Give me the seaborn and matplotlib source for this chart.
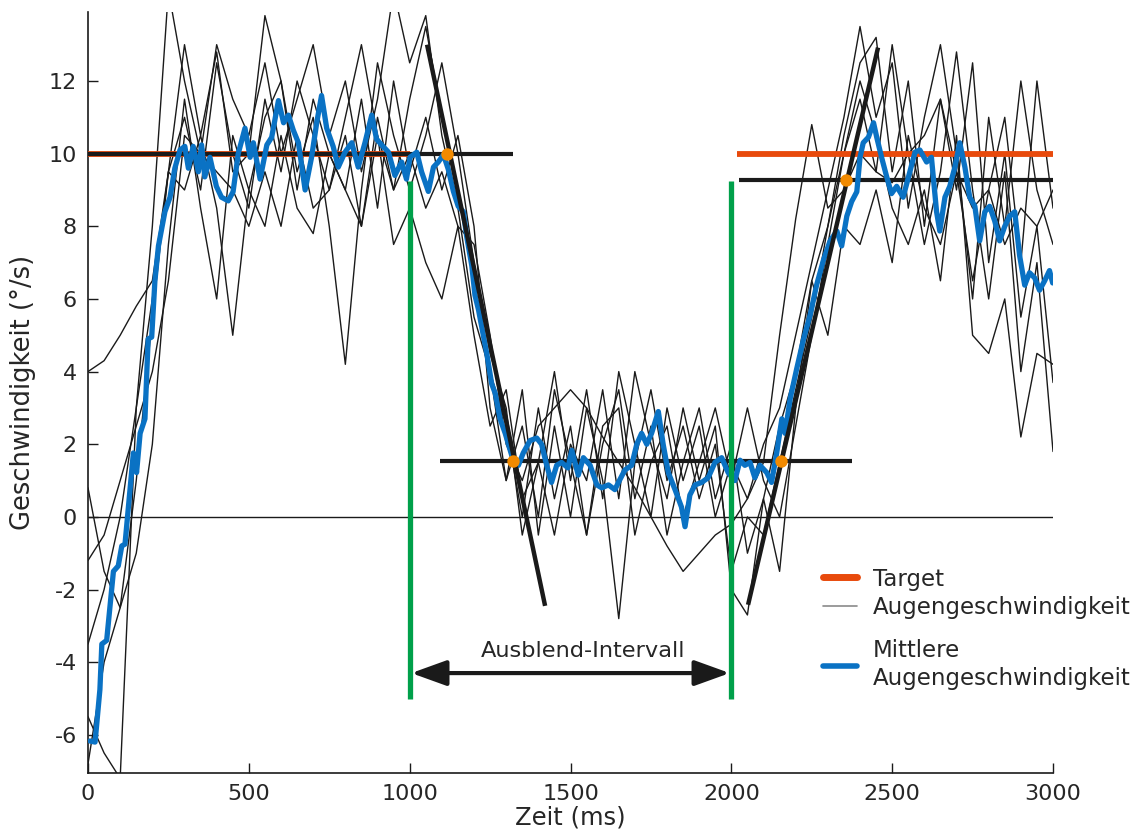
import numpy as np
import pandas as pd
import matplotlib
matplotlib.use("Agg")
import matplotlib.pyplot as plt
import seaborn as sns
from matplotlib.lines import Line2D

# ---------------- data ----------------
# time grid of single eye-velocity traces (ms)
trace_time = [0, 50, 100, 150, 200, 250, 300, 350, 400, 450, 500, 550, 600, 650, 700, 750,
              800, 850, 900, 950, 1000, 1050, 1100, 1150, 1200, 1250, 1300, 1350, 1400, 1450,
              1500, 1550, 1600, 1650, 1700, 1750, 1800, 1850, 1900, 1950, 2000, 2050, 2100,
              2150, 2200, 2250, 2300, 2350, 2400, 2450, 2500, 2550, 2600, 2650, 2700, 2750,
              2800, 2850, 2900, 2950, 3000]

trace_a = [-6.8, -4.0, -2.5, 1.0, 5.5, 9.5, 11.0, 9.0, 12.5, 10.0, 8.5, 11.5, 9.5, 12.0, 10.5, 9.0,
           11.0, 13.0, 10.5, 9.0, 11.5, 13.5, 11.0, 9.0, 6.5, 4.0, 2.5, 0.0, 3.0, 0.5,
           2.5, -0.5, 2.0, 3.5, 0.5, 2.5, -0.5, 1.5, 3.0, 0.5, 2.0, -1.0, 0.5,
           2.5, 4.0, 6.5, 8.0, 10.5, 12.5, 13.2, 9.5, 12.0, 8.0, 11.5, 9.0, 12.5,
           7.0, 10.0, 5.5, 8.0, 3.7]
trace_b = [4.0, 4.3, 5.0, 5.8, 6.5, 9.5, 13.0, 10.5, 12.8, 9.5, 10.0, 13.8, 12.0, 9.5, 11.0, 8.0,
           4.2, 9.0, 12.5, 10.5, 9.0, 10.5, 12.5, 10.0, 7.0, 4.5, 3.0, -0.5, 1.5, 4.0,
           1.0, 3.5, 0.5, 4.0, 2.0, 0.0, 3.0, 1.0, 2.5, 0.0, 1.5, 0.5, 2.0,
           3.0, 5.0, 7.0, 9.0, 11.0, 13.5, 11.0, 12.5, 8.5, 11.0, 13.0, 10.0, 6.0,
           11.0, 8.0, 12.0, 9.0, 7.5]
trace_c = [-5.5, -6.5, -7.2, 3.0, 8.0, 14.5, 12.0, 10.0, 13.0, 11.5, 10.5, 12.5, 10.0, 11.5, 13.0, 10.5,
           12.0, 9.5, 11.5, 14.5, 12.5, 13.8, 10.5, 8.5, 5.5, 4.0, 1.0, 3.5, -0.5, 2.5,
           0.0, 3.0, 1.0, -2.8, 1.5, 3.5, 1.0, 2.5, 0.5, 2.0, -1.5, 0.0, -0.5,
           1.5, 3.5, 5.5, 8.0, 10.0, 11.5, 9.5, 13.0, 10.0, 7.5, 9.5, 12.8, 9.0,
           6.0, 9.5, 4.0, 7.0, 1.8]
trace_d = [-1.2, -0.5, 1.0, 2.5, 4.0, 6.5, 10.5, 10.0, 9.5, 9.0, 8.0, 9.5, 8.0, 10.5, 8.5, 9.0,
           10.5, 8.0, 11.0, 9.0, 10.0, 8.5, 9.5, 8.0, 7.5, 5.0, 2.0, 1.0, 2.5, 3.0,
           3.5, 3.0, 2.2, 1.5, 0.8, 0.0, -0.8, -1.5, -1.0, -0.5, -0.2, 0.5, 1.5,
           5.0, 8.2, 10.8, 8.5, 9.0, 10.0, 9.5, 9.2, 10.0, 10.5, 11.5, 9.5, 8.5,
           9.0, 7.5, 8.5, 8.0, 9.0]
trace_e = [0.8, -1.5, -2.5, -1.0, 2.0, 7.5, 11.5, 8.5, 6.0, 10.5, 9.0, 11.0, 12.0, 9.0, 11.5, 10.0,
           9.0, 11.5, 8.5, 12.0, 9.5, 11.0, 9.0, 10.5, 8.0, 3.0, 1.0, 2.5, 0.0, 3.5,
           1.5, -0.5, 2.5, 3.0, -0.5, 1.5, 2.5, 0.0, 1.5, 3.0, 1.0, 3.0, 1.0,
           0.0, 2.5, 5.0, 7.5, 10.0, 12.0, 10.5, 8.5, 7.5, 9.0, 6.5, 10.5, 5.0,
           4.5, 6.0, 2.2, 4.5, 4.2]
trace_f = [-3.5, -2.0, 0.0, 3.0, 6.0, 9.5, 9.0, 10.5, 8.5, 5.0, 9.0, 8.0, 10.5, 8.5, 7.8, 10.0,
           9.0, 8.0, 10.5, 7.5, 8.5, 7.0, 6.0, 8.0, 5.0, 2.5, 3.5, 0.5, 1.5, -0.5,
           2.0, 1.0, 3.5, 0.5, 4.0, 2.0, 0.5, 3.0, 1.0, 2.5, -2.0, -2.7, 0.5,
           -1.5, 3.0, 6.5, 5.0, 8.0, 7.5, 9.0, 7.0, 10.5, 8.5, 7.5, 9.5, 6.5,
           9.0, 11.0, 7.0, 12.0, 8.5]
traces = {"a": trace_a, "b": trace_b, "c": trace_c, "d": trace_d, "e": trace_e, "f": trace_f}

# mean eye velocity
mean_time = [6, 22, 37, 43, 58, 79, 94, 105, 115, 130, 141, 151, 162, 177, 187, 198, 208, 219,
             239, 255, 270, 286, 301, 312, 327, 343, 353, 363, 379, 399, 415, 436, 451, 467,
             488, 504, 514, 535, 556, 571, 592, 608, 623, 638, 654, 675, 695, 711, 726, 742,
             762, 778, 799, 820, 840, 861, 882, 897, 913, 934, 954, 975, 990, 1001, 1022, 1037,
             1058, 1074, 1089, 1105, 1120, 1136, 1151, 1167, 1177, 1193, 1203, 1214, 1229, 1240,
             1255, 1266, 1281, 1297, 1317, 1338, 1353, 1374, 1395, 1410, 1426, 1441, 1457, 1472,
             1492, 1504, 1524, 1540, 1561, 1582, 1597, 1618, 1638, 1649, 1669, 1690, 1706, 1721,
             1737, 1752, 1773, 1788, 1804, 1825, 1845, 1856, 1871, 1887, 1908, 1928, 1949, 1970,
             1990, 2011, 2027, 2042, 2058, 2073, 2089, 2110, 2125, 2141, 2157, 2167, 2183, 2203,
             2224, 2245, 2265, 2286, 2307, 2328, 2343, 2359, 2374, 2390, 2400, 2410, 2426, 2442,
             2452, 2467, 2483, 2498, 2514, 2534, 2555, 2571, 2586, 2607, 2622, 2638, 2648, 2664,
             2679, 2695, 2710, 2726, 2741, 2757, 2772, 2788, 2803, 2819, 2834, 2850, 2865, 2881,
             2896, 2912, 2927, 2943, 2958, 2974, 2989, 2999]
mean_vel = [-6.17, -6.2, -4.75, -3.5, -3.4, -1.5, -1.35, -0.8, -0.75, 0.68, 1.76, 1.22, 2.3, 2.7,
            4.9, 4.95, 6.5, 7.46, 8.4, 8.8, 9.6, 10.1, 10.2, 9.6, 10.2, 9.5, 10.24, 9.36, 9.9,
            9.1, 8.8, 8.7, 8.95, 10.0, 10.7, 9.9, 10.3, 9.3, 10.24, 10.45, 11.46, 10.85, 11.06,
            10.65, 10.3, 9.0, 9.9, 10.85, 11.6, 10.7, 10.2, 9.63, 10.04, 10.3, 9.63, 10.3, 11.06,
            10.4, 10.24, 10.04, 9.4, 9.77, 9.3, 9.9, 10.04, 9.5, 8.96, 9.63, 9.77, 9.97, 9.57,
            8.96, 8.55, 8.4, 7.73, 6.92, 6.1, 5.7, 5.0, 4.48, 3.66, 3.4, 2.7, 2.3, 1.7, 1.42,
            1.76, 2.1, 2.17, 2.0, 1.42, 0.95, 1.42, 1.5, 1.35, 1.83, 1.15, 1.63, 1.42, 0.88, 0.8,
            0.88, 0.75, 0.95, 1.29, 1.42, 2.0, 2.3, 2.0, 2.3, 2.9, 2.0, 1.22, 0.75, 0.27, -0.27,
            0.6, 0.88, 0.95, 1.08, 1.5, 1.63, 1.22, 1.0, 1.56, 1.42, 1.5, 1.08, 1.42, 1.22, 0.95,
            1.76, 2.7, 2.3, 3.26, 4.07, 4.88, 5.56, 6.38, 7.06, 7.6, 7.87, 7.46, 8.28, 8.68, 8.95,
            9.9, 10.3, 10.45, 10.85, 10.45, 9.9, 9.36, 8.9, 9.1, 8.8, 9.5, 10.04, 10.1, 9.77, 9.9,
            8.4, 7.87, 8.8, 9.1, 9.63, 10.3, 9.63, 8.8, 8.55, 7.6, 8.4, 8.55, 8.14, 7.6, 8.0, 8.28,
            8.4, 7.2, 6.38, 6.72, 6.58, 6.24, 6.5, 6.78, 6.44]

# target velocity (two visible segments)
target_seg1_t = [0, 1000]
target_seg2_t = [2017, 3000]
target_vel = [10, 10]

# fitted steady-state levels
fit1_t, fit1_v = [0, 1320], [10.0, 10.0]
fit2_t, fit2_v = [1094, 2375], [1.54, 1.54]
fit3_t, fit3_v = [2024, 3000], [9.28, 9.28]
# fitted slopes
slope1_t, slope1_v = [1054, 1421], [13.0, -2.45]
slope2_t, slope2_v = [2052, 2456], [-2.42, 12.92]
# intersection points
cross_t = [1116, 1321, 2154, 2356]
cross_v = [10.0, 1.54, 1.54, 9.28]
# blanking interval
blank_t = [1000, 2000]
blank_v = [-5.0, 9.25]
arrow_v = -4.3

x_ticks = [0, 500, 1000, 1500, 2000, 2500, 3000]
y_ticks = [-6, -4, -2, 0, 2, 4, 6, 8, 10, 12]

# ---------------- style ----------------
sns.set_theme(style="ticks")
plt.rcParams["font.family"] = ["DejaVu Sans"]
plt.rcParams["axes.unicode_minus"] = False
TXT = "#262626"
BLK = "#1a1a1a"
BLUE = "#0a72c4"
ORANGE = "#e84a0c"
DOT = "#f28a00"
GREEN = "#00a04a"

fig = plt.figure(figsize=(11.4, 8.38), dpi=100)
ax = fig.add_axes([0.0772, 0.0776, 0.8465, 0.9081])

rows = []
for k, vals in traces.items():
    for t, v in zip(trace_time, vals):
        rows.append({"trial": k, "t": t, "v": v})
df_tr = pd.DataFrame(rows)
df_mean = pd.DataFrame({"t": mean_time, "v": mean_vel})

# zero line
ax.plot([0, 3000], [0, 0], color=BLK, lw=1.0, zorder=1)

sns.lineplot(data=df_tr, x="t", y="v", units="trial", estimator=None, color=BLK,
             lw=1.0, ax=ax, zorder=2, legend=False)

ax.plot(target_seg1_t, target_vel, color=ORANGE, lw=4.2, zorder=3, solid_capstyle="butt")
ax.plot(target_seg2_t, target_vel, color=ORANGE, lw=4.2, zorder=3, solid_capstyle="butt")

for tt, vv in [(fit1_t, fit1_v), (fit2_t, fit2_v), (fit3_t, fit3_v)]:
    ax.plot(tt, vv, color=BLK, lw=3.0, zorder=4, solid_capstyle="butt")

sns.lineplot(data=df_mean, x="t", y="v", color=BLUE, lw=3.8, ax=ax, zorder=5,
             legend=False, sort=False)

for tt, vv in [(slope1_t, slope1_v), (slope2_t, slope2_v)]:
    ax.plot(tt, vv, color=BLK, lw=3.2, zorder=6, solid_capstyle="butt")

for bt in blank_t:
    ax.plot([bt, bt], blank_v, color=GREEN, lw=3.8, zorder=7, solid_capstyle="butt")

ax.scatter(cross_t, cross_v, s=80, color=DOT, zorder=8, linewidths=0)

ax.annotate("", xy=(blank_t[0] + 5, arrow_v), xytext=(blank_t[1] - 5, arrow_v),
            arrowprops=dict(arrowstyle="<|-|>,head_length=1.8,head_width=0.65",
                            color=BLK, lw=3.0, shrinkA=0, shrinkB=0), zorder=9)
ax.text(sum(blank_t) / 2 + 40, arrow_v + 0.33, "Ausblend-Intervall", ha="center",
        va="bottom", fontsize=16.2, color=TXT)

# axes
ax.set_xlim(0, 3000)
ax.set_ylim(-7.05, 13.9)
ax.set_xticks(x_ticks)
ax.set_yticks(y_ticks)
ax.tick_params(direction="in", length=7, width=1.0, color=BLK, labelsize=16,
               labelcolor=TXT, pad=8)
for s in ["top", "right"]:
    ax.spines[s].set_visible(False)
for s in ["left", "bottom"]:
    ax.spines[s].set_color(BLK)
    ax.spines[s].set_linewidth(1.2)
ax.spines["bottom"].set_bounds(0, 3000)
ax.set_xlabel("Zeit (ms)", fontsize=17.5, color=TXT, labelpad=1)
ax.set_ylabel("Geschwindigkeit (°/s)", fontsize=18.5, color=TXT, labelpad=9)

# legend (two blocks to match the spacing)
leg_kw = dict(loc="upper left", frameon=False, fontsize=16.5, handlelength=1.45,
              handletextpad=0.7, borderpad=0, borderaxespad=0)
leg1 = ax.legend([Line2D([], [], color=ORANGE, lw=5),
                  Line2D([], [], color="#8a8a8a", lw=1.2)],
                 ["Target", "Augengeschwindigkeit"],
                 bbox_to_anchor=(0.762, 0.270), labelspacing=0.22, **leg_kw)
for t in leg1.get_texts():
    t.set_color(TXT)
ax.add_artist(leg1)
leg2 = ax.legend([Line2D([], [], color=BLUE, lw=4)],
                 ["Mittlere\nAugengeschwindigkeit"],
                 bbox_to_anchor=(0.762, 0.176), labelspacing=0.2, **leg_kw)
for t in leg2.get_texts():
    t.set_color(TXT)
    t.set_linespacing(1.3)

fig.savefig("out.png", dpi=100)
